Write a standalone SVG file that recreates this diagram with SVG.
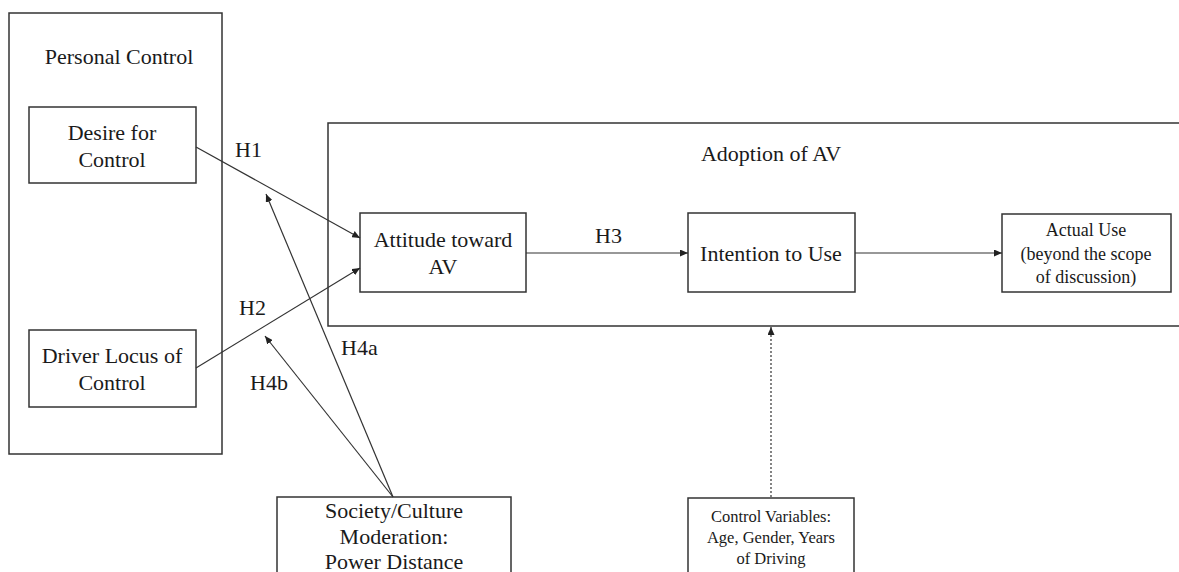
<svg xmlns="http://www.w3.org/2000/svg" width="1179" height="572" viewBox="0 0 1179 572" font-family="Liberation Serif, Times New Roman, serif">
<style>
.box{fill:#fff;stroke:#333;stroke-width:1.5}
.frame{fill:none;stroke:#333;stroke-width:1.5}
text{font-family:'Liberation Serif','Times New Roman',serif}
.t{font-size:22px;fill:#1a1a1a;text-anchor:middle}
.lbl{font-size:22px;fill:#1a1a1a}
.s18{font-size:18px}
.s16{font-size:16.5px}
.c{fill:none;stroke:#333;stroke-width:1.2;marker-end:url(#ah)}
.d{fill:none;stroke:#333;stroke-width:1.2;stroke-dasharray:2,2;marker-end:url(#ah)}
</style>
<defs>
<marker id="ah" markerWidth="9" markerHeight="7" refX="8" refY="3.5" orient="auto" markerUnits="userSpaceOnUse">
<path d="M0,0 L8,3.5 L0,7 z" fill="#222"/>
</marker>
</defs>
<rect width="1179" height="572" fill="#fff"/>

<g id="personal-control">
<rect class="frame" x="9" y="13" width="213" height="441"/>
<text class="t" x="119" y="64">Personal Control</text>
</g>
<g id="desire-for-control">
<rect class="box" x="29" y="107" width="167" height="76"/>
<text class="t" x="112" y="140">Desire for</text>
<text class="t" x="112" y="167">Control</text>
</g>
<g id="driver-locus">
<rect class="box" x="29" y="330" width="167" height="77"/>
<text class="t" x="112" y="363">Driver Locus of</text>
<text class="t" x="112" y="390">Control</text>
</g>

<g id="adoption-of-av">
<path class="frame" d="M1179,123 H328 V326 H1179"/>
<text class="t" x="771" y="161">Adoption of AV</text>
</g>
<g id="attitude">
<rect class="box" x="360" y="213" width="166" height="79"/>
<text class="t" x="443" y="247">Attitude toward</text>
<text class="t" x="443" y="274">AV</text>
</g>
<g id="intention">
<rect class="box" x="688" y="213" width="167" height="79"/>
<text class="t" x="771" y="261">Intention to Use</text>
</g>
<g id="actual-use">
<rect class="box" x="1002" y="214" width="169" height="78"/>
<text class="t s18" x="1086" y="236">Actual Use</text>
<text class="t s18" x="1086" y="260">(beyond the scope</text>
<text class="t s18" x="1086" y="283">of discussion)</text>
</g>

<g id="society-culture">
<rect class="box" x="277" y="497" width="234" height="90"/>
<text class="t" x="394" y="518">Society/Culture</text>
<text class="t" x="394" y="544">Moderation:</text>
<text class="t" x="394" y="569">Power Distance</text>
</g>
<g id="control-variables">
<rect class="box" x="688" y="498" width="166" height="90"/>
<text class="t s16" x="771" y="522">Control Variables:</text>
<text class="t s16" x="771" y="543">Age, Gender, Years</text>
<text class="t s16" x="771" y="564">of Driving</text>
</g>

<g id="connectors">
<line class="c" x1="196" y1="147" x2="360" y2="238"/>
<line class="c" x1="196" y1="368" x2="360" y2="268"/>
<line class="c" x1="526" y1="253" x2="688" y2="253"/>
<line class="c" x1="855" y1="253" x2="1002" y2="253"/>
<line class="c" x1="393" y1="497" x2="266" y2="194"/>
<line class="c" x1="393" y1="497" x2="265" y2="336"/>
<line class="d" x1="771" y1="497" x2="771" y2="327"/>
</g>

<g id="labels">
<text class="lbl" x="235" y="157">H1</text>
<text class="lbl" x="239" y="315">H2</text>
<text class="lbl" x="595" y="243">H3</text>
<text class="lbl" x="341" y="355">H4a</text>
<text class="lbl" x="250" y="390">H4b</text>
</g>
</svg>
